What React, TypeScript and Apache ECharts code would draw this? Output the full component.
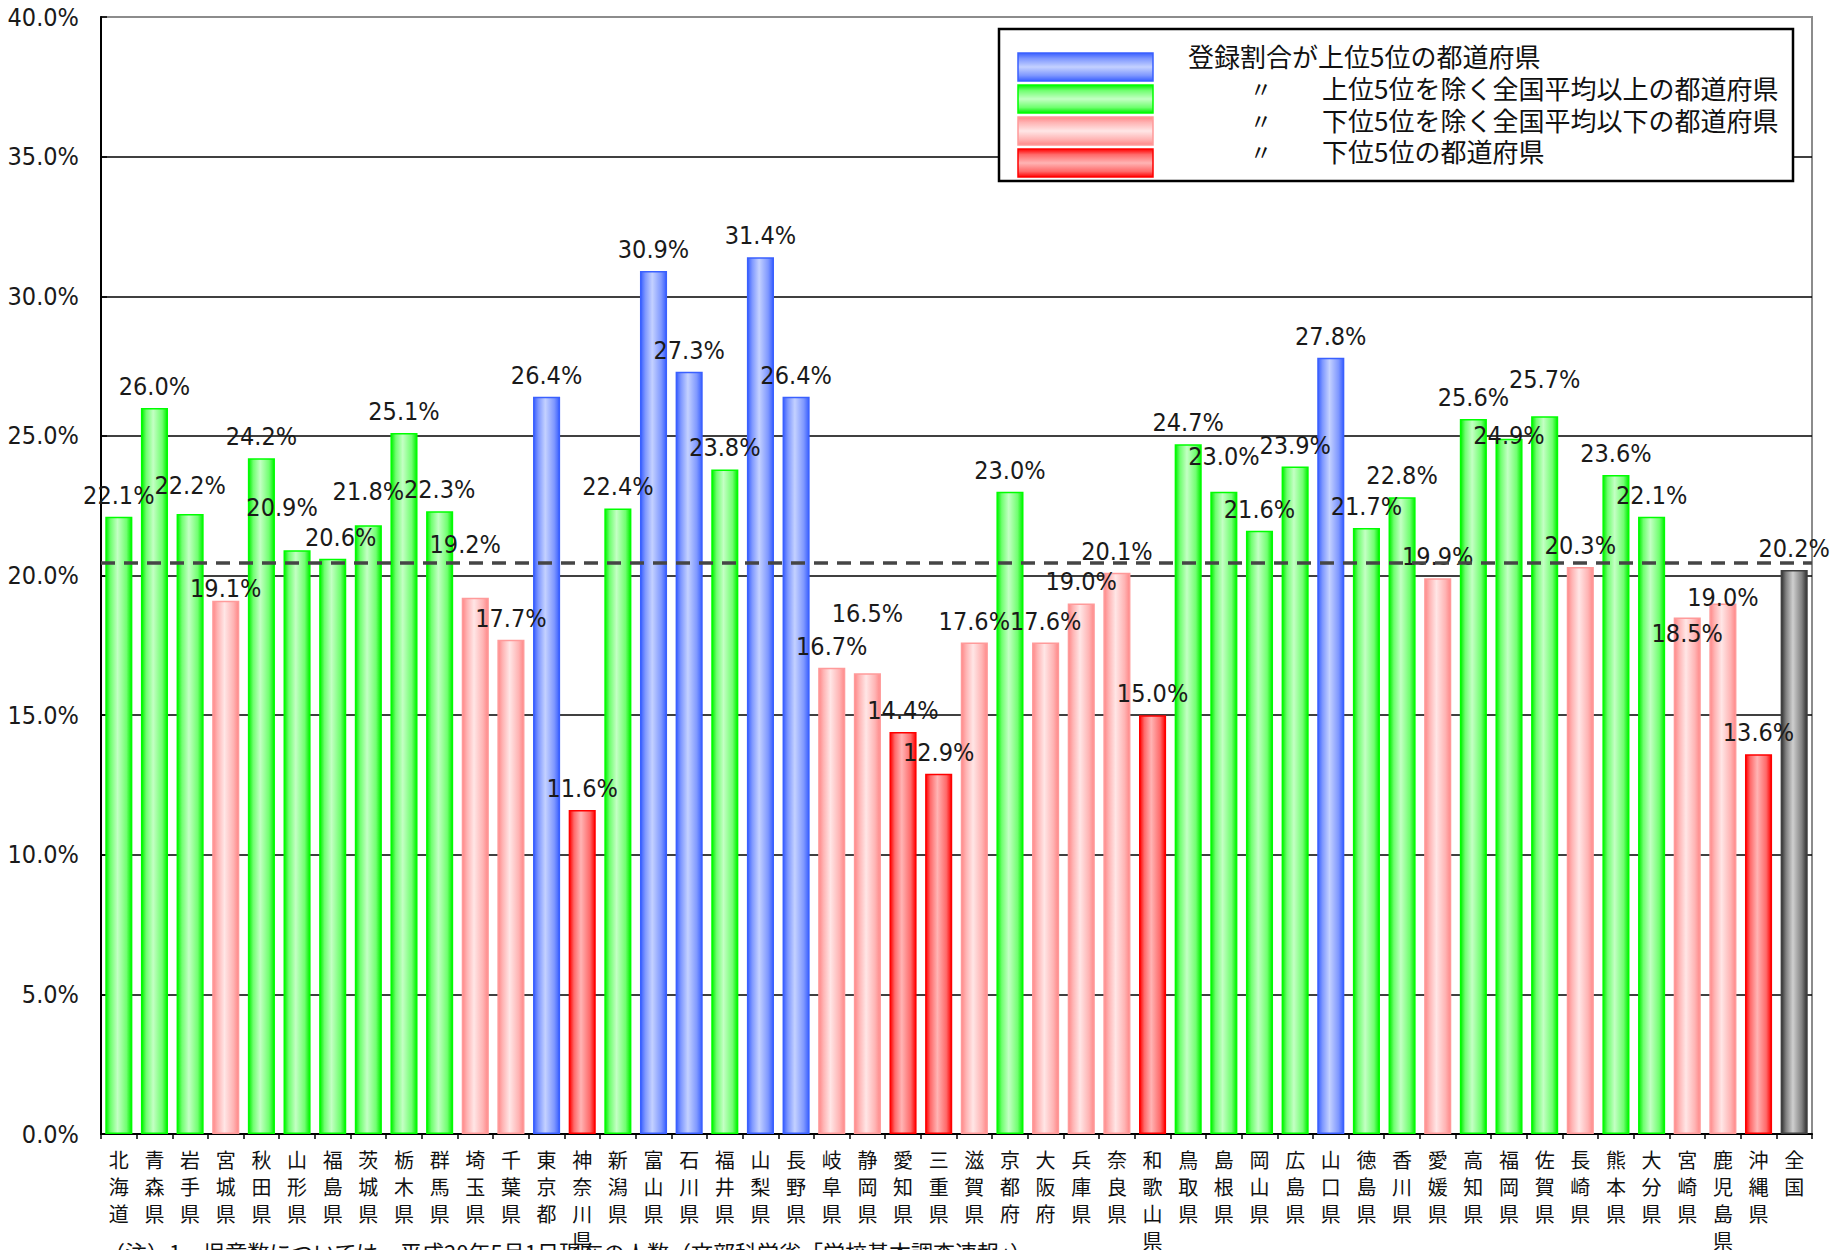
import React, { useEffect, useRef } from "react";
import * as echarts from "echarts";

const categories = [
  "北海道", "青森県", "岩手県", "宮城県", "秋田県", "山形県", "福島県", "茨城県", "栃木県", "群馬県",
  "埼玉県", "千葉県", "東京都", "神奈川県", "新潟県", "富山県", "石川県", "福井県", "山梨県", "長野県",
  "岐阜県", "静岡県", "愛知県", "三重県", "滋賀県", "京都府", "大阪府", "兵庫県", "奈良県", "和歌山県",
  "鳥取県", "島根県", "岡山県", "広島県", "山口県", "徳島県", "香川県", "愛媛県", "高知県", "福岡県",
  "佐賀県", "長崎県", "熊本県", "大分県", "宮崎県", "鹿児島県", "沖縄県", "全国",
];

const values = [
  22.1, 26.0, 22.2, 19.1, 24.2, 20.9, 20.6, 21.8, 25.1, 22.3,
  19.2, 17.7, 26.4, 11.6, 22.4, 30.9, 27.3, 23.8, 31.4, 26.4,
  16.7, 16.5, 14.4, 12.9, 17.6, 23.0, 17.6, 19.0, 20.1, 15.0,
  24.7, 23.0, 21.6, 23.9, 27.8, 21.7, 22.8, 19.9, 25.6, 24.9,
  25.7, 20.3, 23.6, 22.1, 18.5, 19.0, 13.6, 20.2,
];

// T: 上位5位, A: 平均以上, B: 平均以下, L: 下位5位, N: 全国
const groups = [
  "A", "A", "A", "B", "A", "A", "A", "A", "A", "A",
  "B", "B", "T", "L", "A", "T", "T", "A", "T", "T",
  "B", "B", "L", "L", "B", "A", "B", "B", "B", "L",
  "A", "A", "A", "A", "T", "A", "A", "B", "A", "A",
  "A", "B", "A", "A", "B", "B", "L", "N",
];

const averageLine = 20.45;

const yTicks = [0, 5, 10, 15, 20, 25, 30, 35, 40];

const legendTexts = [
  "登録割合が上位5位の都道府県",
  "上位5位を除く全国平均以上の都道府県",
  "下位5位を除く全国平均以下の都道府県",
  "下位5位の都道府県",
];
const legendGroups = ["T", "A", "B", "L"];

const noteText = "（注）1．児童数については、平成20年5月1日現在の人数（文部科学省「学校基本調査速報」）";

// styling (not data)
const palette: Record<string, { edge: string; mid: string; light: string; border: string }> = {
  T: { edge: "#3a60ff", mid: "#7f98ff", light: "#c4d1ff", border: "#3a60ff" },
  A: { edge: "#00f000", mid: "#70ff70", light: "#c4ffc4", border: "#00ff00" },
  B: { edge: "#ff8888", mid: "#ffb4b4", light: "#ffe6e6", border: "#ff9a9a" },
  L: { edge: "#ff0000", mid: "#ff6a6a", light: "#ffb4b4", border: "#ff0000" },
  N: { edge: "#303030", mid: "#808080", light: "#cfcfcf", border: "#404040" },
};

const labelNudge: Record<string, [number, number]> = {
  "岩手県": [0, -7],
  "宮城県": [0, 9],
  "山形県": [-15, -21],
  "福島県": [8, 0],
  "茨城県": [0, -12],
  "埼玉県": [-10, -32],
  "静岡県": [0, -38],
  "島根県": [0, -14],
  "福岡県": [0, 18],
  "佐賀県": [0, -15],
  "宮崎県": [0, 38],
  "鹿児島県": [0, 16],
};

const NUM_FONT = "'Liberation Sans Narrow', 'DejaVu Sans Condensed', 'Liberation Sans', sans-serif";
const CJK_FONT = "'Noto Sans CJK JP', 'Noto Sans', sans-serif";

function hGrad(g: string) {
  const p = palette[g];
  return new echarts.graphic.LinearGradient(0, 0, 1, 0, [
    { offset: 0, color: p.edge },
    { offset: 0.18, color: p.mid },
    { offset: 0.45, color: p.light },
    { offset: 0.8, color: p.mid },
    { offset: 1, color: p.edge },
  ]);
}

function vGrad(g: string) {
  const p = palette[g];
  return new echarts.graphic.LinearGradient(0, 0, 0, 1, [
    { offset: 0, color: p.edge },
    { offset: 0.2, color: p.mid },
    { offset: 0.5, color: p.light },
    { offset: 0.8, color: p.mid },
    { offset: 1, color: p.edge },
  ]);
}

export default function App() {
  const ref = useRef<HTMLDivElement>(null);

  useEffect(() => {
    if (!ref.current) return;
    const chart = echarts.init(ref.current, undefined, { renderer: "svg" });

    const seriesData = values.map((v, i) => {
      const g = groups[i];
      const nudge = labelNudge[categories[i]] || [0, 0];
      return {
        value: v,
        itemStyle: {
          color: hGrad(g),
          borderColor: palette[g].border,
          borderWidth: 1.5,
        },
        label: { offset: nudge },
      };
    });

    const legendRowsY = [53, 85, 117, 149];
    const legendTextY = [55, 87, 119, 150];
    const graphic: any[] = [
      {
        type: "rect",
        shape: { x: 999, y: 29, width: 794, height: 152 },
        style: { fill: "#ffffff", stroke: "#000000", lineWidth: 2.5 },
        z: 100,
      },
    ];
    legendGroups.forEach((g, i) => {
      graphic.push({
        type: "rect",
        shape: { x: 1018, y: legendRowsY[i], width: 135, height: 28 },
        style: { fill: vGrad(g), stroke: palette[g].border, lineWidth: 1.5 },
        z: 101,
      });
      if (i === 0) {
        graphic.push({
          type: "text",
          x: 1188,
          y: legendTextY[i],
          style: {
            text: legendTexts[i],
            font: `26px ${CJK_FONT}`,
            fill: "#111111",
            verticalAlign: "middle",
          },
          z: 101,
        });
      } else {
        graphic.push({
          type: "text",
          x: 1250,
          y: legendTextY[i],
          style: {
            text: "〃",
            font: `22px ${CJK_FONT}`,
            fill: "#111111",
            verticalAlign: "middle",
          },
          z: 101,
        });
        graphic.push({
          type: "text",
          x: 1322,
          y: legendTextY[i],
          style: {
            text: legendTexts[i],
            font: `26px ${CJK_FONT}`,
            fill: "#111111",
            verticalAlign: "middle",
          },
          z: 101,
        });
      }
    });
    graphic.push({
      type: "text",
      x: 103,
      y: 1240,
      style: {
        text: noteText,
        font: `22px ${CJK_FONT}`,
        fill: "#111111",
        verticalAlign: "top",
      },
      z: 90,
    });

    chart.setOption({
      animation: false,
      backgroundColor: "#ffffff",
      grid: {
        left: 101,
        right: 29,
        top: 17,
        bottom: 116,
        containLabel: false,
        outerBoundsMode: "none",
        show: true,
        borderColor: "#8c8c8c",
        borderWidth: 2,
        backgroundColor: "transparent",
      },
      xAxis: {
        type: "category",
        data: categories,
        axisLine: { show: true, lineStyle: { color: "#000000", width: 2 } },
        axisTick: { show: true, length: 5, lineStyle: { color: "#000000", width: 1.5 } },
        axisLabel: {
          interval: 0,
          margin: 12,
          fontFamily: CJK_FONT,
          fontSize: 20,
          lineHeight: 27,
          color: "#111111",
          verticalAlign: "top",
          formatter: (name: string) => name.split("").join("\n"),
        },
      },
      yAxis: {
        type: "value",
        min: yTicks[0],
        max: yTicks[yTicks.length - 1],
        interval: 5,
        axisLine: { show: true, lineStyle: { color: "#000000", width: 2 } },
        axisTick: { show: true, inside: true, length: 6, lineStyle: { color: "#000000", width: 1.5 } },
        axisLabel: {
          margin: 22,
          fontFamily: NUM_FONT,
          fontSize: 25,
          color: "#1a1a1a",
          formatter: (v: number) => v.toFixed(1) + "%",
        },
        splitLine: {
          show: true,
          showMaxLine: false,
          lineStyle: { color: "#000000", width: 1.5 },
        },
      },
      series: [
        {
          type: "bar",
          data: seriesData,
          barCategoryGap: "24%",
          label: {
            show: true,
            position: "top",
            distance: 9,
            fontFamily: NUM_FONT,
            fontSize: 25,
            color: "#1a1a1a",
            formatter: (p: any) => values[p.dataIndex].toFixed(1) + "%",
          },
          markLine: {
            silent: true,
            symbol: "none",
            label: { show: false },
            lineStyle: { color: "#454545", type: [14, 9], width: 3.5 },
            data: [{ yAxis: averageLine }],
            z: 10,
          },
        },
      ],
      graphic,
    });

    return () => {
      chart.dispose();
    };
  }, []);

  return (
    <div
      ref={ref}
      style={{
        position: "fixed",
        left: 0,
        top: 0,
        width: 1841,
        height: 1250,
        background: "#ffffff",
      }}
    />
  );
}
